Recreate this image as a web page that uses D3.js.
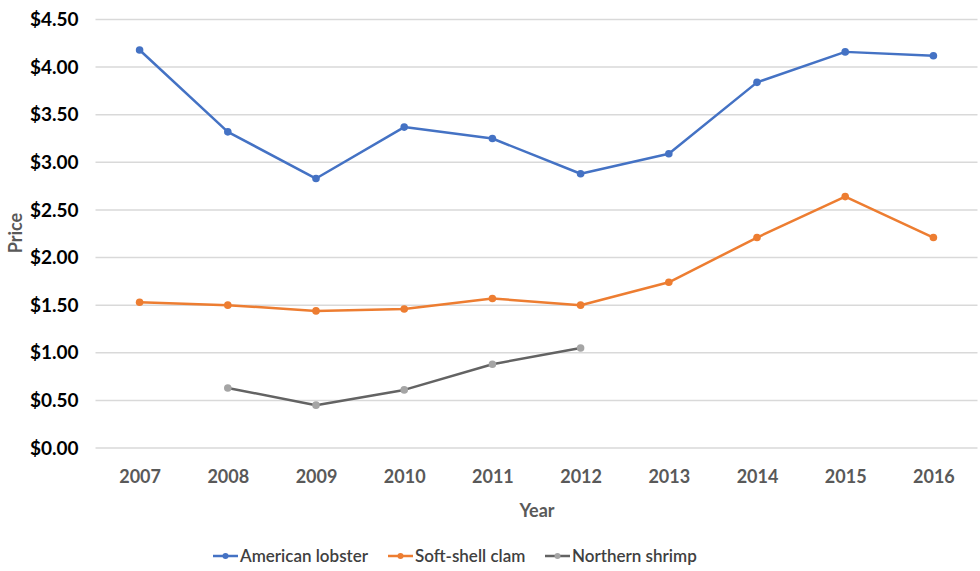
<!DOCTYPE html>
<html>
<head>
<meta charset="utf-8">
<script src="https://cdn.jsdelivr.net/npm/d3@7"></script>
<style>
  html, body { margin: 0; padding: 0; background: #fff; }
  svg { display: block; font-family: Lato, "Open Sans", sans-serif; }
</style>
</head>
<body>
<div class="chart-container"></div>
<script>
// chart data
const years = ["2007", "2008", "2009", "2010", "2011", "2012", "2013", "2014", "2015", "2016"];
const lobster = [4.18, 3.32, 2.83, 3.37, 3.25, 2.88, 3.09, 3.84, 4.16, 4.12];
const clam = [1.53, 1.50, 1.44, 1.46, 1.57, 1.50, 1.74, 2.21, 2.64, 2.21];
const shrimp = [null, 0.63, 0.45, 0.61, 0.88, 1.05, null, null, null, null];
const yTicks = [0, 0.5, 1, 1.5, 2, 2.5, 3, 3.5, 4, 4.5];
const seriesNames = ["American lobster", "Soft-shell clam", "Northern shrimp"];

const W = 980, H = 571;
const margin = {top: 19.5, right: 2.5, bottom: 123, left: 95.5};
const width = W - margin.left - margin.right;
const height = H - margin.top - margin.bottom;

const series = [
  {name: seriesNames[0], values: lobster, line: "#4472C4", marker: "#4472C4"},
  {name: seriesNames[1], values: clam, line: "#ED7D31", marker: "#ED7D31"},
  {name: seriesNames[2], values: shrimp, line: "#636363", marker: "#A5A5A5"}
];

const svg = d3.select(".chart-container").append("svg")
  .attr("width", W).attr("height", H);

const chart = svg.append("g")
  .attr("transform", "translate(" + margin.left + "," + margin.top + ")");

const x = d3.scalePoint().domain(years).range([0, width]).padding(0.5);
const y = d3.scaleLinear().domain([0, 4.5]).range([height, 0]);

/* gridlines */
chart.append("g")
  .selectAll("line")
  .data(yTicks)
  .enter().append("line")
  .attr("x1", 0).attr("x2", width)
  .attr("y1", d => y(d)).attr("y2", d => y(d))
  .style("stroke", "#d9d9d9")
  .style("stroke-width", 1.5);

/* y axis labels */
const yAxis = chart.append("g")
  .call(d3.axisLeft(y).tickValues(yTicks).tickSize(0).tickPadding(17).tickFormat(d3.format("$.2f")));
yAxis.select(".domain").remove();
yAxis.selectAll("text")
  .style("font-size", "19px")
  .style("font-weight", "bold")
  .style("font-family", "Lato, sans-serif")
  .attr("fill", "#000");

/* x axis labels */
const xAxis = chart.append("g")
  .attr("transform", "translate(0," + height + ")")
  .call(d3.axisBottom(x).tickSize(0).tickPadding(22));
xAxis.select(".domain").remove();
xAxis.selectAll("text")
  .style("font-size", "18px")
  .style("font-weight", "bold")
  .style("font-family", "Lato, sans-serif")
  .attr("fill", "#595959");

/* axis titles */
svg.append("text")
  .attr("x", 537).attr("y", 517)
  .attr("text-anchor", "middle")
  .style("font-size", "18px").style("font-weight", "bold")
  .attr("fill", "#595959")
  .text("Year");

svg.append("text")
  .attr("transform", "translate(22,233) rotate(-90)")
  .attr("text-anchor", "middle")
  .style("font-size", "18px").style("font-weight", "bold")
  .attr("fill", "#595959")
  .text("Price");

/* lines and markers */
const line = d3.line()
  .defined(d => d.v !== null)
  .x(d => x(d.year))
  .y(d => y(d.v));

series.forEach(s => {
  const pts = years.map((yr, i) => ({year: yr, v: s.values[i]}));
  chart.append("path")
    .datum(pts)
    .attr("d", line)
    .style("fill", "none")
    .style("stroke", s.line)
    .style("stroke-width", 2.5)
    .style("stroke-linejoin", "round");
  chart.append("g")
    .selectAll("circle")
    .data(pts.filter(d => d.v !== null))
    .enter().append("circle")
    .attr("cx", d => x(d.year))
    .attr("cy", d => y(d.v))
    .attr("r", 3.8)
    .style("fill", s.marker);
});

/* legend */
const legendX = [213, 388, 545];
const legend = svg.append("g").attr("transform", "translate(0,556)");
series.forEach((s, i) => {
  const g = legend.append("g").attr("transform", "translate(" + legendX[i] + ",0)");
  g.append("line")
    .attr("x1", 0).attr("x2", 25).attr("y1", 0).attr("y2", 0)
    .style("stroke", s.line).style("stroke-width", 2.5);
  g.append("circle").attr("cx", 12.5).attr("cy", 0).attr("r", 3).style("fill", s.marker);
  g.append("text")
    .attr("x", 27).attr("y", 0).attr("dy", "0.35em")
    .style("font-size", "17px").style("font-weight", "600")
    .attr("fill", "#404040")
    .text(s.name);
});
</script>
</body>
</html>
